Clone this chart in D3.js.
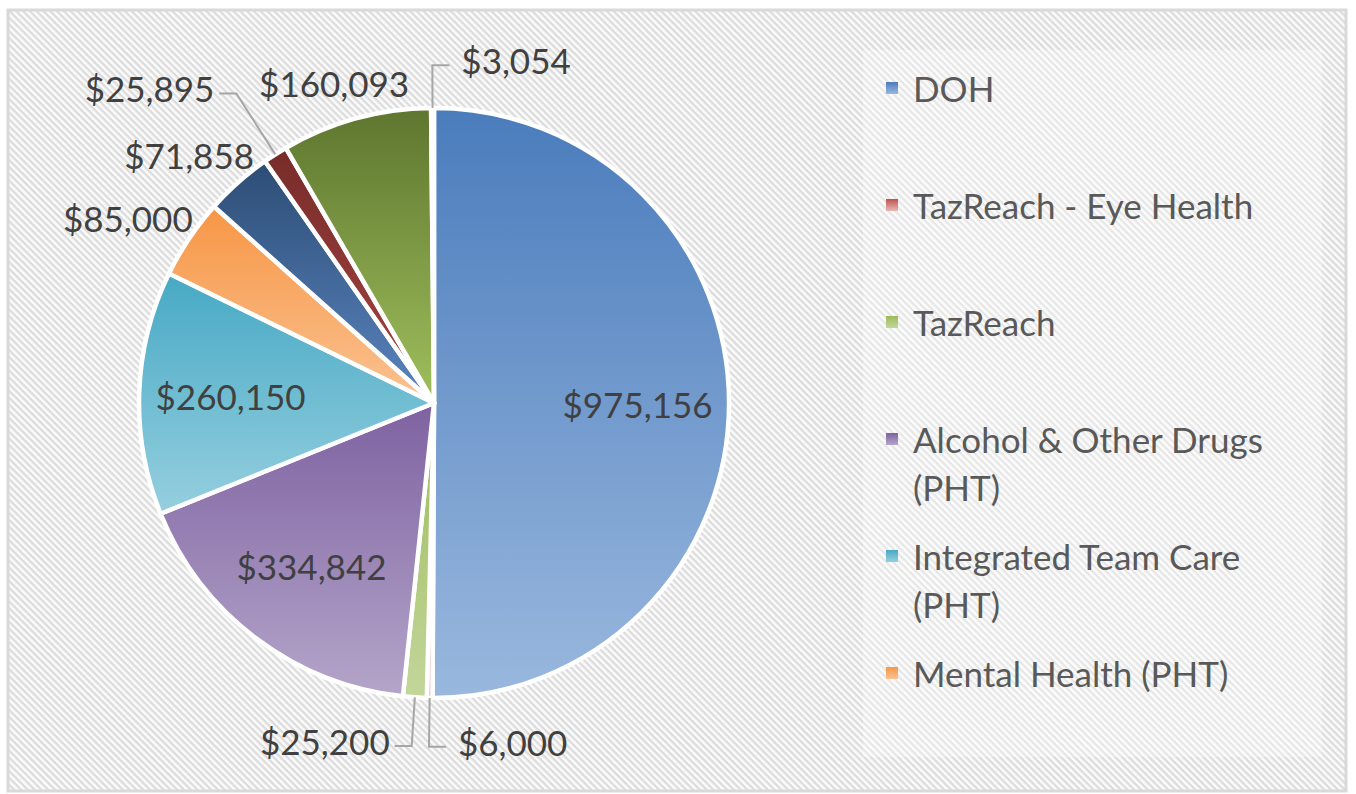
<!DOCTYPE html>
<html>
<head>
<meta charset="utf-8">
<script src="https://cdn.jsdelivr.net/npm/d3@7"></script>
<style>
  html, body { margin: 0; padding: 0; background: #fff; }
  svg text { font-family: Lato, "Open Sans", sans-serif; }
</style>
</head>
<body>
<div id="chart"></div>
<script>
// data (clockwise from 12 o'clock)
const categories = [
  'DOH', 'TazReach - Eye Health', 'TazReach', 'Alcohol & Other Drugs (PHT)',
  'Integrated Team Care (PHT)', 'Mental Health (PHT)',
  'Series 7', 'Series 8', 'Series 9', 'Series 10'
];
const values = [975156, 6000, 25200, 334842, 260150, 85000, 71858, 25895, 160093, 3054];
// only the first six fit in the legend box
const legendCount = 6;

// gradient colours per slice, top -> bottom
const topColors = ['#4a7cbc', '#c0504d', '#9bbb59', '#7e62a1', '#47a9c4', '#f79646', '#2c4d75', '#772c2a', '#5e762f', '#5c4776'];
const bottomColors = ['#9ab8de', '#e6b9b8', '#c3d69b', '#b4a5c9', '#95cfdf', '#fac291', '#5b85c0', '#a84542', '#9fbf5c', '#8064a2'];

// small slices whose labels sit on leader lines
const leaders = [
  { i: 1, rf: 1.165, side: 1 },
  { i: 2, rf: 1.165, side: -1 },
  { i: 7, rf: 1.245, side: -1 },
  { i: 9, rf: 1.145, side: 1 }
];

const W = 1356, H = 794;
const cx = 434, cy = 403, radius = 295;
const fmt = d3.format('$,.0f');

const svg = d3.select('#chart').append('svg')
  .attr('width', W).attr('height', H);

const defs = svg.append('defs');

const hatch = defs.append('pattern')
  .attr('id', 'hatch')
  .attr('patternUnits', 'userSpaceOnUse')
  .attr('width', 4.8).attr('height', 4.8)
  .attr('patternTransform', 'rotate(45)');
hatch.append('rect').attr('width', 4.8).attr('height', 4.8).attr('fill', '#fbfbfb');
hatch.append('rect').attr('width', 4.8).attr('height', 2.3).attr('fill', '#dcdcdc');

categories.forEach((c, i) => {
  const g = defs.append('linearGradient')
    .attr('id', 'grad' + i)
    .attr('x1', 0).attr('y1', 0).attr('x2', 0).attr('y2', 1);
  g.append('stop').attr('offset', '0%').attr('stop-color', topColors[i]);
  g.append('stop').attr('offset', '100%').attr('stop-color', bottomColors[i]);
});

// chart area
svg.append('rect')
  .attr('x', 8).attr('y', 10)
  .attr('width', 1338).attr('height', 781)
  .attr('fill', 'url(#hatch)')
  .attr('stroke', '#d9d9d9')
  .attr('stroke-width', 3);

// legend box (slightly lighter veil over the hatch)
svg.append('rect')
  .attr('x', 863).attr('y', 50)
  .attr('width', 459).attr('height', 707)
  .attr('fill', '#ffffff')
  .attr('fill-opacity', 0.3);

const pieData = d3.pie().sort(null).value(d => d)(values);
const arc = d3.arc().innerRadius(0).outerRadius(radius);

const g = svg.append('g').attr('transform', `translate(${cx},${cy})`);

g.selectAll('.slice')
  .data(pieData)
  .enter()
  .append('path')
  .attr('class', 'slice')
  .attr('d', arc)
  .attr('fill', (d, i) => `url(#grad${i})`)
  .attr('stroke', '#ffffff')
  .attr('stroke-width', 4.5)
  .attr('stroke-linejoin', 'round');

const polar = (a, r) => [Math.sin(a) * r, -Math.cos(a) * r];
const mid = d => (d.startAngle + d.endAngle) / 2;
const total = d3.sum(values);
const leaderIdx = leaders.map(l => l.i);

const labelSize = 35;
const labels = g.append('g').attr('font-size', labelSize).attr('fill', '#404040');

pieData.forEach((d, i) => {
  if (leaderIdx.includes(i)) return;
  const a = mid(d);
  const text = labels.append('text').text(fmt(d.value))
    .attr('text-anchor', 'middle')
    .attr('dominant-baseline', 'central');
  if (d.value / total > 0.1) {
    const [x, y] = polar(a, radius * 0.69);
    text.attr('x', x).attr('y', y);
  } else {
    const w = text.node().getComputedTextLength();
    const h = labelSize * 0.85;
    const [px, py] = polar(a, radius + 22);
    text.attr('x', px + Math.sin(a) * w / 2 * 0.8)
      .attr('y', py - Math.cos(a) * h / 2);
  }
});

leaders.forEach(l => {
  const d = pieData[l.i];
  const a = mid(d);
  const p0 = polar(a, radius);
  const p1 = polar(a, radius * l.rf);
  const p2 = [p1[0] + l.side * 17, p1[1]];
  labels.append('path')
    .attr('d', d3.line()([p0, p1, p2]))
    .attr('fill', 'none')
    .attr('stroke', '#a6a6a6')
    .attr('stroke-width', 2);
  labels.append('text').text(fmt(d.value))
    .attr('x', p2[0] + l.side * (l.side > 0 ? 12 : 5))
    .attr('y', p1[1] - 5)
    .attr('text-anchor', l.side > 0 ? 'start' : 'end')
    .attr('dominant-baseline', 'central');
});

// legend
const legend = svg.append('g')
  .attr('font-size', 35)
  .attr('fill', '#595959');
const maxLegendWidth = 385;

categories.slice(0, legendCount).forEach((c, i) => {
  const y = 88 + i * 117;
  legend.append('rect')
    .attr('x', 886).attr('y', y - 6)
    .attr('width', 12).attr('height', 12)
    .attr('fill', `url(#grad${i})`);
  const text = legend.append('text')
    .attr('x', 913).attr('y', y)
    .attr('dominant-baseline', 'central');
  // simple word wrap
  const words = c.split(' ');
  let line = [];
  let tspan = text.append('tspan').attr('x', 913).attr('dy', 0);
  words.forEach(w => {
    line.push(w);
    tspan.text(line.join(' '));
    if (tspan.node().getComputedTextLength() > maxLegendWidth && line.length > 1) {
      line.pop();
      tspan.text(line.join(' '));
      line = [w];
      tspan = text.append('tspan').attr('x', 913).attr('dy', 48).text(w);
    }
  });
});
</script>
</body>
</html>
